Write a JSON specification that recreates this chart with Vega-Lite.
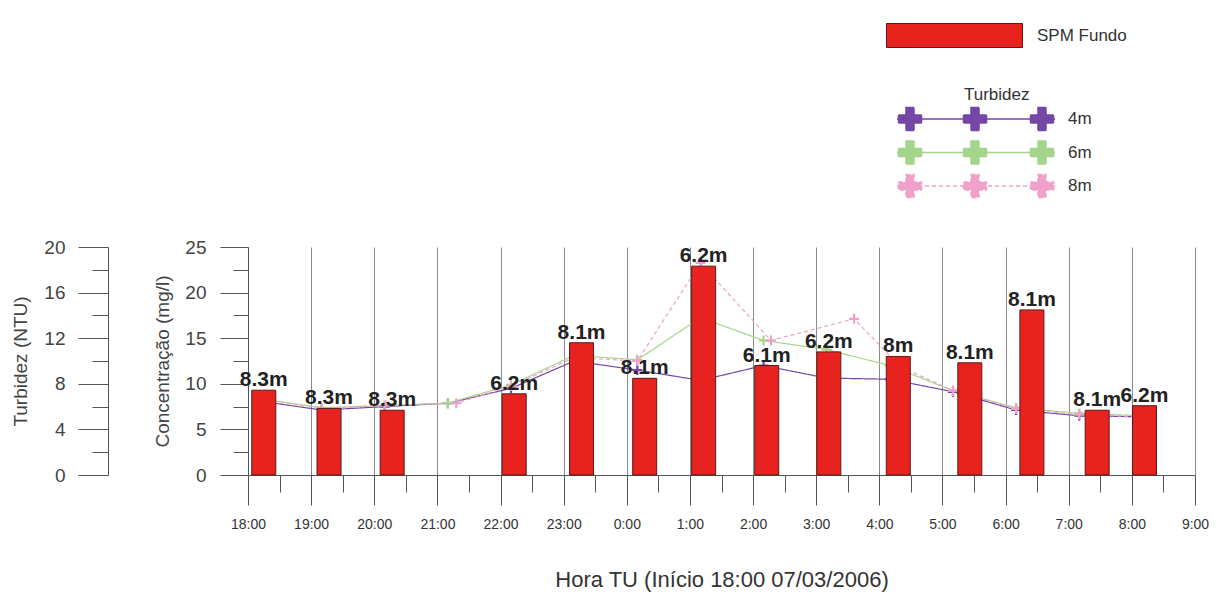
{
  "$schema": "https://vega.github.io/schema/vega-lite/v6.json",
  "width": 947,
  "height": 228,
  "autosize": {"type": "none"},
  "padding": {"left": 248, "top": 247, "right": 26, "bottom": 127},
  "background": "white",
  "config": {
    "view": {"stroke": null},
    "font": "Liberation Sans"
  },
  "datasets": {
    "bars": [
      {"t": "2006-03-07T18:15", "v": 9.3, "lab": "8.3m", "serie": "SPM Fundo"},
      {"t": "2006-03-07T19:17", "v": 7.3, "lab": "8.3m", "serie": "SPM Fundo"},
      {"t": "2006-03-07T20:17", "v": 7.1, "lab": "8.3m", "serie": "SPM Fundo"},
      {"t": "2006-03-07T22:13", "v": 8.9, "lab": "6.2m", "serie": "SPM Fundo"},
      {"t": "2006-03-07T23:17", "v": 14.5, "lab": "8.1m", "serie": "SPM Fundo"},
      {"t": "2006-03-08T00:17", "v": 10.6, "lab": "8.1m", "serie": "SPM Fundo"},
      {"t": "2006-03-08T01:13", "v": 22.9, "lab": "6.2m", "serie": "SPM Fundo"},
      {"t": "2006-03-08T02:13", "v": 12.0, "lab": "6.1m", "serie": "SPM Fundo"},
      {"t": "2006-03-08T03:12", "v": 13.5, "lab": "6.2m", "serie": "SPM Fundo"},
      {"t": "2006-03-08T04:18", "v": 13.0, "lab": "8m", "serie": "SPM Fundo"},
      {"t": "2006-03-08T05:26", "v": 12.3, "lab": "8.1m", "serie": "SPM Fundo"},
      {"t": "2006-03-08T06:25", "v": 18.1, "lab": "8.1m", "serie": "SPM Fundo"},
      {"t": "2006-03-08T07:27", "v": 7.1, "lab": "8.1m", "serie": "SPM Fundo"},
      {"t": "2006-03-08T08:12", "v": 7.6, "lab": "6.2m", "serie": "SPM Fundo"}
    ],
    "turb": [
      {"t": "2006-03-07T18:10", "s": "4m", "v": 6.5},
      {"t": "2006-03-07T19:10", "s": "4m", "v": 5.7},
      {"t": "2006-03-07T20:10", "s": "4m", "v": 6.0},
      {"t": "2006-03-07T21:10", "s": "4m", "v": 6.3},
      {"t": "2006-03-07T22:10", "s": "4m", "v": 7.6},
      {"t": "2006-03-07T23:10", "s": "4m", "v": 10.0},
      {"t": "2006-03-08T00:10", "s": "4m", "v": 9.2},
      {"t": "2006-03-08T01:10", "s": "4m", "v": 8.3},
      {"t": "2006-03-08T02:10", "s": "4m", "v": 9.6},
      {"t": "2006-03-08T03:10", "s": "4m", "v": 8.5},
      {"t": "2006-03-08T04:10", "s": "4m", "v": 8.4},
      {"t": "2006-03-08T05:10", "s": "4m", "v": 7.3},
      {"t": "2006-03-08T06:10", "s": "4m", "v": 5.7},
      {"t": "2006-03-08T07:10", "s": "4m", "v": 5.2},
      {"t": "2006-03-08T08:10", "s": "4m", "v": 5.1},
      {"t": "2006-03-07T18:10", "s": "6m", "v": 6.7},
      {"t": "2006-03-07T19:10", "s": "6m", "v": 5.9},
      {"t": "2006-03-07T20:10", "s": "6m", "v": 6.1},
      {"t": "2006-03-07T21:10", "s": "6m", "v": 6.3},
      {"t": "2006-03-07T22:10", "s": "6m", "v": 7.9},
      {"t": "2006-03-07T23:10", "s": "6m", "v": 10.5},
      {"t": "2006-03-08T00:10", "s": "6m", "v": 10.1},
      {"t": "2006-03-08T01:10", "s": "6m", "v": 13.8},
      {"t": "2006-03-08T02:10", "s": "6m", "v": 11.8},
      {"t": "2006-03-08T03:10", "s": "6m", "v": 11.0},
      {"t": "2006-03-08T04:10", "s": "6m", "v": 9.6},
      {"t": "2006-03-08T05:10", "s": "6m", "v": 7.4},
      {"t": "2006-03-08T06:10", "s": "6m", "v": 5.9},
      {"t": "2006-03-08T07:10", "s": "6m", "v": 5.4},
      {"t": "2006-03-08T08:10", "s": "6m", "v": 5.2},
      {"t": "2006-03-07T18:10", "s": "8m", "v": 6.6},
      {"t": "2006-03-07T19:10", "s": "8m", "v": 5.8},
      {"t": "2006-03-07T20:10", "s": "8m", "v": 6.1},
      {"t": "2006-03-07T21:18", "s": "8m", "v": 6.3},
      {"t": "2006-03-07T22:10", "s": "8m", "v": 7.8},
      {"t": "2006-03-07T23:10", "s": "8m", "v": 10.3},
      {"t": "2006-03-08T00:10", "s": "8m", "v": 10.0},
      {"t": "2006-03-08T01:10", "s": "8m", "v": 18.6},
      {"t": "2006-03-08T02:17", "s": "8m", "v": 11.8},
      {"t": "2006-03-08T03:36", "s": "8m", "v": 13.7},
      {"t": "2006-03-08T04:20", "s": "8m", "v": 9.5},
      {"t": "2006-03-08T05:10", "s": "8m", "v": 7.4},
      {"t": "2006-03-08T06:10", "s": "8m", "v": 5.8},
      {"t": "2006-03-08T07:10", "s": "8m", "v": 5.3},
      {"t": "2006-03-08T08:10", "s": "8m", "v": 5.1}
    ]
  },
  "layer": [
    {
      "data": {"name": "turb"},
      "encoding": {
        "x": {
          "field": "t",
          "type": "temporal",
          "scale": {"domain": ["2006-03-07T18:00", "2006-03-08T09:00"], "nice": false, "padding": 0},
          "axis": {
            "title": "Hora TU (Início 18:00 07/03/2006)",
            "tickCount": 30,
            "labelExpr": "minutes(datum.value) === 0 ? timeFormat(datum.value, '%-H:%M') : ''",
            "tickSize": 30,
            "tickDash": {"condition": {"test": "minutes(datum.value) === 0", "value": [30, 0]}, "value": [17, 40]},
            "grid": true,
            "gridColor": "#8c8c8c",
            "gridOpacity": {"condition": {"test": "minutes(datum.value) === 0", "value": 1}, "value": 0},
            "domainColor": "#555555",
            "tickColor": "#555555",
            "labelFont": "Liberation Sans",
            "labelFontSize": 14,
            "labelColor": "#333333",
            "labelPadding": 12,
            "labelOverlap": false,
            "labelFlush": false,
            "titleFontSize": 22,
            "titleFontWeight": "normal",
            "titleColor": "#333333",
            "titlePadding": 38
          }
        },
        "y": {
          "field": "v",
          "type": "quantitative",
          "scale": {"domain": [0, 20], "nice": false},
          "axis": {
            "orient": "left",
            "offset": 140,
            "title": "Turbidez (NTU)",
            "values": [0, 2, 4, 6, 8, 10, 12, 14, 16, 18, 20],
            "labelExpr": "datum.value % 4 === 0 ? datum.label : ''",
            "tickSize": 30,
            "tickDash": {"condition": {"test": "datum.value % 4 === 0", "value": [30, 0]}, "value": [16, 40]},
            "grid": false,
            "domainColor": "#555555",
            "tickColor": "#555555",
            "labelFontSize": 19,
            "labelColor": "#444444",
            "labelPadding": 13,
            "titleFontSize": 19,
            "titleFontWeight": "normal",
            "titleColor": "#444444",
            "titlePadding": 13
          }
        },
        "color": {
          "field": "s",
          "type": "nominal",
          "scale": {"domain": ["4m", "6m", "8m"], "range": ["#7446a6", "#a3d68a", "#f0a0ca"]},
          "legend": {
            "title": "Turbidez",
            "orient": "none",
            "legendX": 716,
            "legendY": -160,
            "titleFontSize": 17,
            "titleFontWeight": "normal",
            "titleColor": "#333333",
            "titlePadding": 4,
            "labelFontSize": 17,
            "labelColor": "#333333",
            "labelOffset": 82,
            "rowPadding": 3.5,
            "symbolSize": 400,
            "symbolStrokeWidth": 1.5,
            "symbolType": "M-7.8,0H8M-6.9,-1.15H-6.1V-0.4H-5.35V0.4H-6.1V1.15H-6.9V0.4H-7.65V-0.4H-6.9ZM-0.4,-1.15H0.4V-0.4H1.15V0.4H0.4V1.15H-0.4V0.4H-1.15V-0.4H-0.4ZM6.3,-1.15H7.1V-0.4H7.85V0.4H7.1V1.15H6.3V0.4H5.55V-0.4H6.3Z"
          }
        }
      },
      "layer": [
        {
          "mark": {"type": "line", "strokeWidth": 1.2},
          "encoding": {
            "strokeDash": {
              "field": "s",
              "type": "nominal",
              "scale": {"domain": ["4m", "6m", "8m"], "range": [[1, 0], [1, 0], [4, 3]]},
              "legend": null
            }
          }
        },
        {
          "mark": {"type": "point", "filled": true, "opacity": 1, "size": 100, "shape": "M-1,-0.22H1V0.22H-1ZM-0.22,-1H0.22V1H-0.22Z"},
          "encoding": {}
        }
      ]
    },
    {
      "data": {"name": "bars"},
      "encoding": {
        "x": {"field": "t", "type": "temporal"},
        "y": {
          "field": "v",
          "type": "quantitative",
          "scale": {"domain": [0, 25], "nice": false},
          "axis": {
            "orient": "left",
            "title": "Concentração (mg/l)",
            "values": [0, 2.5, 5, 7.5, 10, 12.5, 15, 17.5, 20, 22.5, 25],
            "labelExpr": "datum.value % 5 === 0 ? datum.label : ''",
            "tickSize": 28,
            "tickDash": {"condition": {"test": "datum.value % 5 === 0", "value": [28, 0]}, "value": [15, 40]},
            "grid": false,
            "domainColor": "#555555",
            "tickColor": "#555555",
            "labelFontSize": 19,
            "labelColor": "#444444",
            "labelPadding": 14,
            "titleFontSize": 19,
            "titleFontWeight": "normal",
            "titleColor": "#444444",
            "titlePadding": 12
          }
        }
      },
      "layer": [
        {
          "mark": {"type": "bar", "width": 24, "stroke": "#5a1a14", "strokeWidth": 1},
          "encoding": {
            "fill": {
              "field": "serie",
              "type": "nominal",
              "scale": {"range": ["#e8231f"]},
              "legend": {
                "title": null,
                "orient": "none",
                "legendX": 696,
                "legendY": -222,
                "symbolType": "M-6.8,-1.2H6.8V1.2H-6.8Z",
                "symbolSize": 400,
                "symbolStrokeColor": "#5a1a14",
                "symbolStrokeWidth": 1,
                "labelOffset": 72,
                "labelFontSize": 17,
                "labelColor": "#333333"
              }
            }
          }
        },
        {
          "mark": {"type": "text", "baseline": "alphabetic", "dy": -4, "fontSize": 21, "fontWeight": "bold", "color": "#222222"},
          "encoding": {"text": {"field": "lab"}}
        }
      ]
    }
  ],
  "resolve": {"scale": {"y": "independent"}}
}
